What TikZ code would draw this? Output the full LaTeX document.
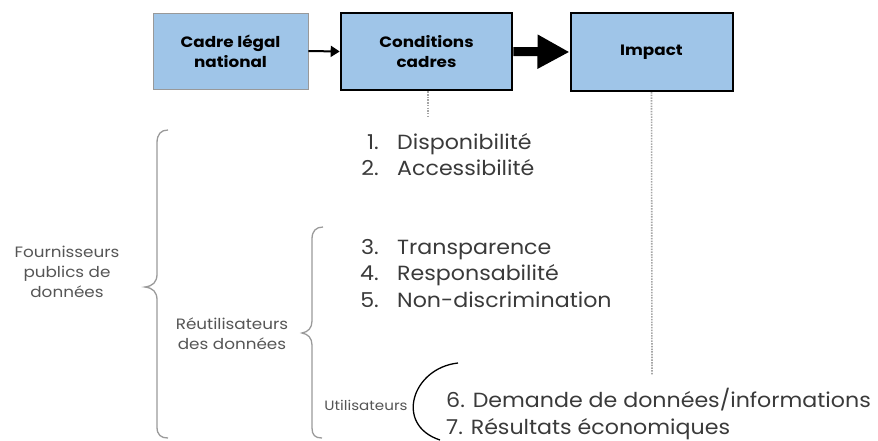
\documentclass[tikz,border=0pt]{standalone}
\usepackage{fontspec}
\setmainfont{Poppins}
\newfontfamily\widefont[FakeStretch=1.08]{Poppins}
\newfontfamily\wideside[FakeStretch=1.12]{Poppins}
\usetikzlibrary{arrows.meta}
\definecolor{boxblue}{HTML}{9FC5E8}
\definecolor{txt}{HTML}{3A3A3A}
\definecolor{sidetxt}{HTML}{555555}
\definecolor{bracegray}{HTML}{9A9A9A}
\tikzset{
  box/.style={draw, fill=boxblue, minimum height=76pt, align=center, font=\wideside\bfseries\fontsize{15}{20}\selectfont, inner sep=0pt},
  item/.style={anchor=base west, text=txt, font=\widefont\fontsize{20.5}{22}\selectfont, inner sep=0pt},
  num/.style={anchor=base east, text=txt, font=\widefont\fontsize{20.5}{22}\selectfont, inner sep=0pt},
  side/.style={text=sidetxt, align=center, font=\wideside\fontsize{15}{20}\selectfont, inner sep=0pt},
  brace/.style={draw=bracegray, line width=1.3pt},
  dots/.style={draw=gray!70, line width=1.6pt, dash pattern=on 1.5pt off 1.2pt}
}
\begin{document}
\begin{tikzpicture}[x=1pt,y=-1pt]
\useasboundingbox (0,0) rectangle (878,440);
% boxes
\node[box, draw=gray!80, line width=0.6pt, minimum width=155pt] (legal) at (230.5,51) {Cadre légal\\national};
\node[box, line width=2.6pt, minimum width=171pt, minimum height=77pt] (cond) at (426.5,51.5) {Conditions\\cadres};
\node[box, line width=2pt, minimum width=162pt, minimum height=78pt] (impact) at (651.5,52) {Impact};
% arrows
\draw[line width=2pt, -{Triangle[length=9pt, width=11pt]}] (legal.east) -- (cond.west);
\draw[line width=9pt, -{Triangle[length=32pt, width=32pt]}] (cond.east) -- (impact.west);
% dotted links
\coordinate (cend) at (428,118);
\coordinate (iend) at (652,375);
\draw[dots] (cond.south) ++(1.5,0) -- (cend);
\draw[dots] (impact.south) -- (iend);
% list
\node[num] (n1) at (379,149) {1.};
\node[item] (t1) at (397,149) {Disponibilité};
\node[num] (n2) at (379,175) {2.};
\node[item] (t2) at (397,175) {Accessibilité};
\node[num] (n3) at (379,254) {3.};
\node[item] (t3) at (397,254) {Transparence};
\node[num] (n4) at (379,280) {4.};
\node[item] (t4) at (397,280) {Responsabilité};
\node[num] (n5) at (379,307) {5.};
\node[item] (t5) at (397,307) {Non-discrimination};
\node[item] (t6) at (446,407) {6. Demande de données/informations};
\node[item] (t7) at (446,434) {7. Résultats économiques};
% side labels
\node[side] (four) at (67,272) {Fournisseurs\\publics de\\données};
\node[side] (reut) at (232,334) {Réutilisateurs\\des données};
\node[side, font=\wideside\fontsize{13.5}{15}\selectfont] (util) at (366,405) {Utilisateurs};
% braces
\draw[brace] (168,130) .. controls (161,130) and (157,134) .. (157,143) -- (157,274)
  .. controls (157,282) and (153,286) .. (145,287)
  .. controls (153,288) and (157,292) .. (157,300) -- (157,427)
  .. controls (157,435) and (161,438) .. (168,438);
\draw[brace] (323,227) .. controls (316,227) and (312,231) .. (312,239) -- (312,321)
  .. controls (312,328) and (308,332) .. (302,333)
  .. controls (308,334) and (312,338) .. (312,345) -- (312,428)
  .. controls (312,435) and (315,438) .. (322,438);
\draw[line width=1.3pt] (458,363) .. controls (412,368) and (394,425) .. (440,440);
\end{tikzpicture}
\end{document}
